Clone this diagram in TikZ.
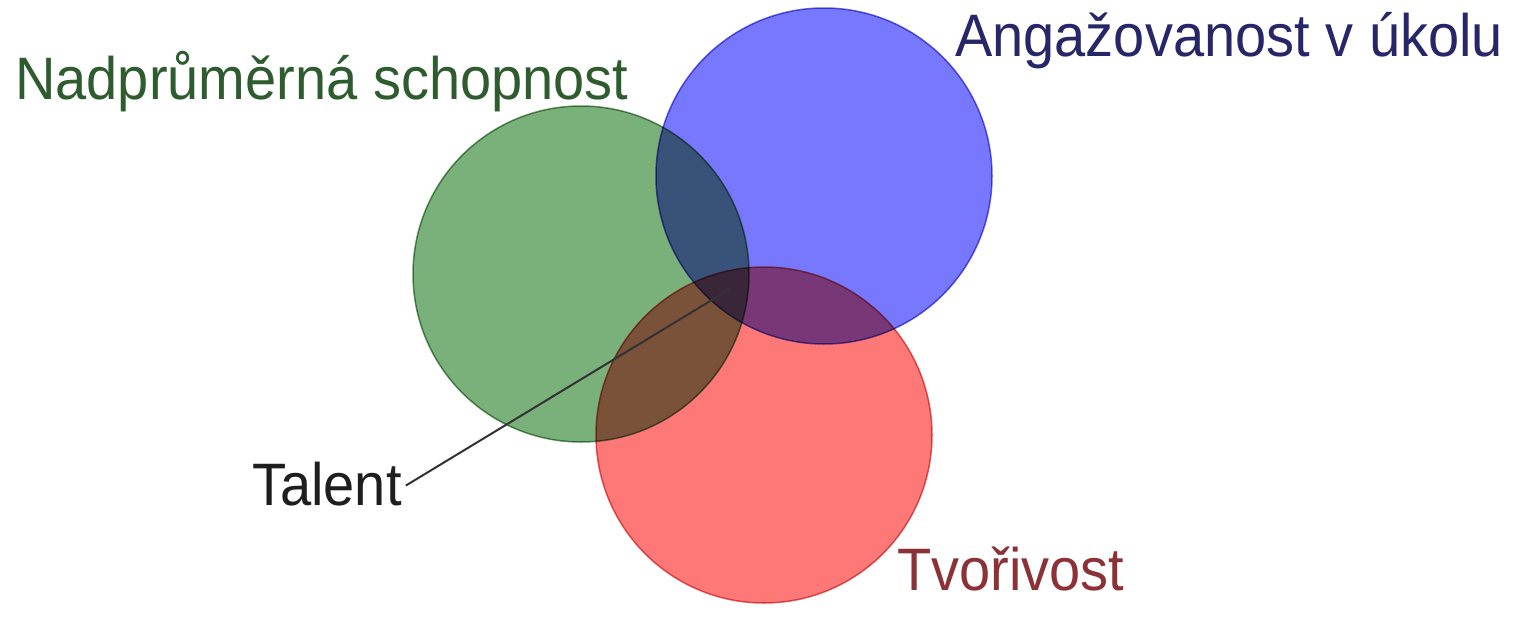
\documentclass[tikz,border=0pt]{standalone}
\usepackage{fontspec}
\setmainfont{Liberation Sans}
\definecolor{gfill}{RGB}{122,176,122}
\definecolor{bfill}{RGB}{120,120,255}
\definecolor{rfill}{RGB}{255,120,120}
\definecolor{gtext}{RGB}{46,92,46}
\definecolor{btext}{RGB}{38,38,105}
\definecolor{rtext}{RGB}{140,50,55}
\definecolor{ktext}{RGB}{30,30,30}
\begin{document}
\begin{tikzpicture}[x=1pt,y=-1pt,
  blob/.style={circle,inner sep=0pt,minimum size=336pt},
  lbl/.style={anchor=base west,inner sep=0pt,yscale=1.07,font=\fontsize{56}{60}\selectfont},
]
\useasboundingbox[fill=white] (0,0) rectangle (1526,632);
\begin{scope}[blend group=multiply]
  \node[blob,fill=gfill,draw=gfill!85!black,line width=1.5pt] (g) at (581,274) {};
  \node[blob,fill=bfill,draw=bfill!85!black,line width=1.5pt] (b) at (824,176) {};
  \node[blob,fill=rfill,draw=rfill!85!black,line width=1.5pt] (r) at (764,435) {};
\end{scope}
\node[lbl,text=gtext] (tg) at (15,99) {Nadprůměrná schopnost};
\node[lbl,text=btext] (tb) at (955,56) {Angažovanost v úkolu};
\node[lbl,text=ktext] (tt) at (252,505) {Talent};
\node[lbl,text=rtext] (tr) at (897,590) {Tvořivost};
\coordinate (tip) at (730,289);
\draw[line width=2pt,draw=black!80] ([xshift=4pt,yshift=-2pt]tt.east) -- (tip);
\end{tikzpicture}
\end{document}
